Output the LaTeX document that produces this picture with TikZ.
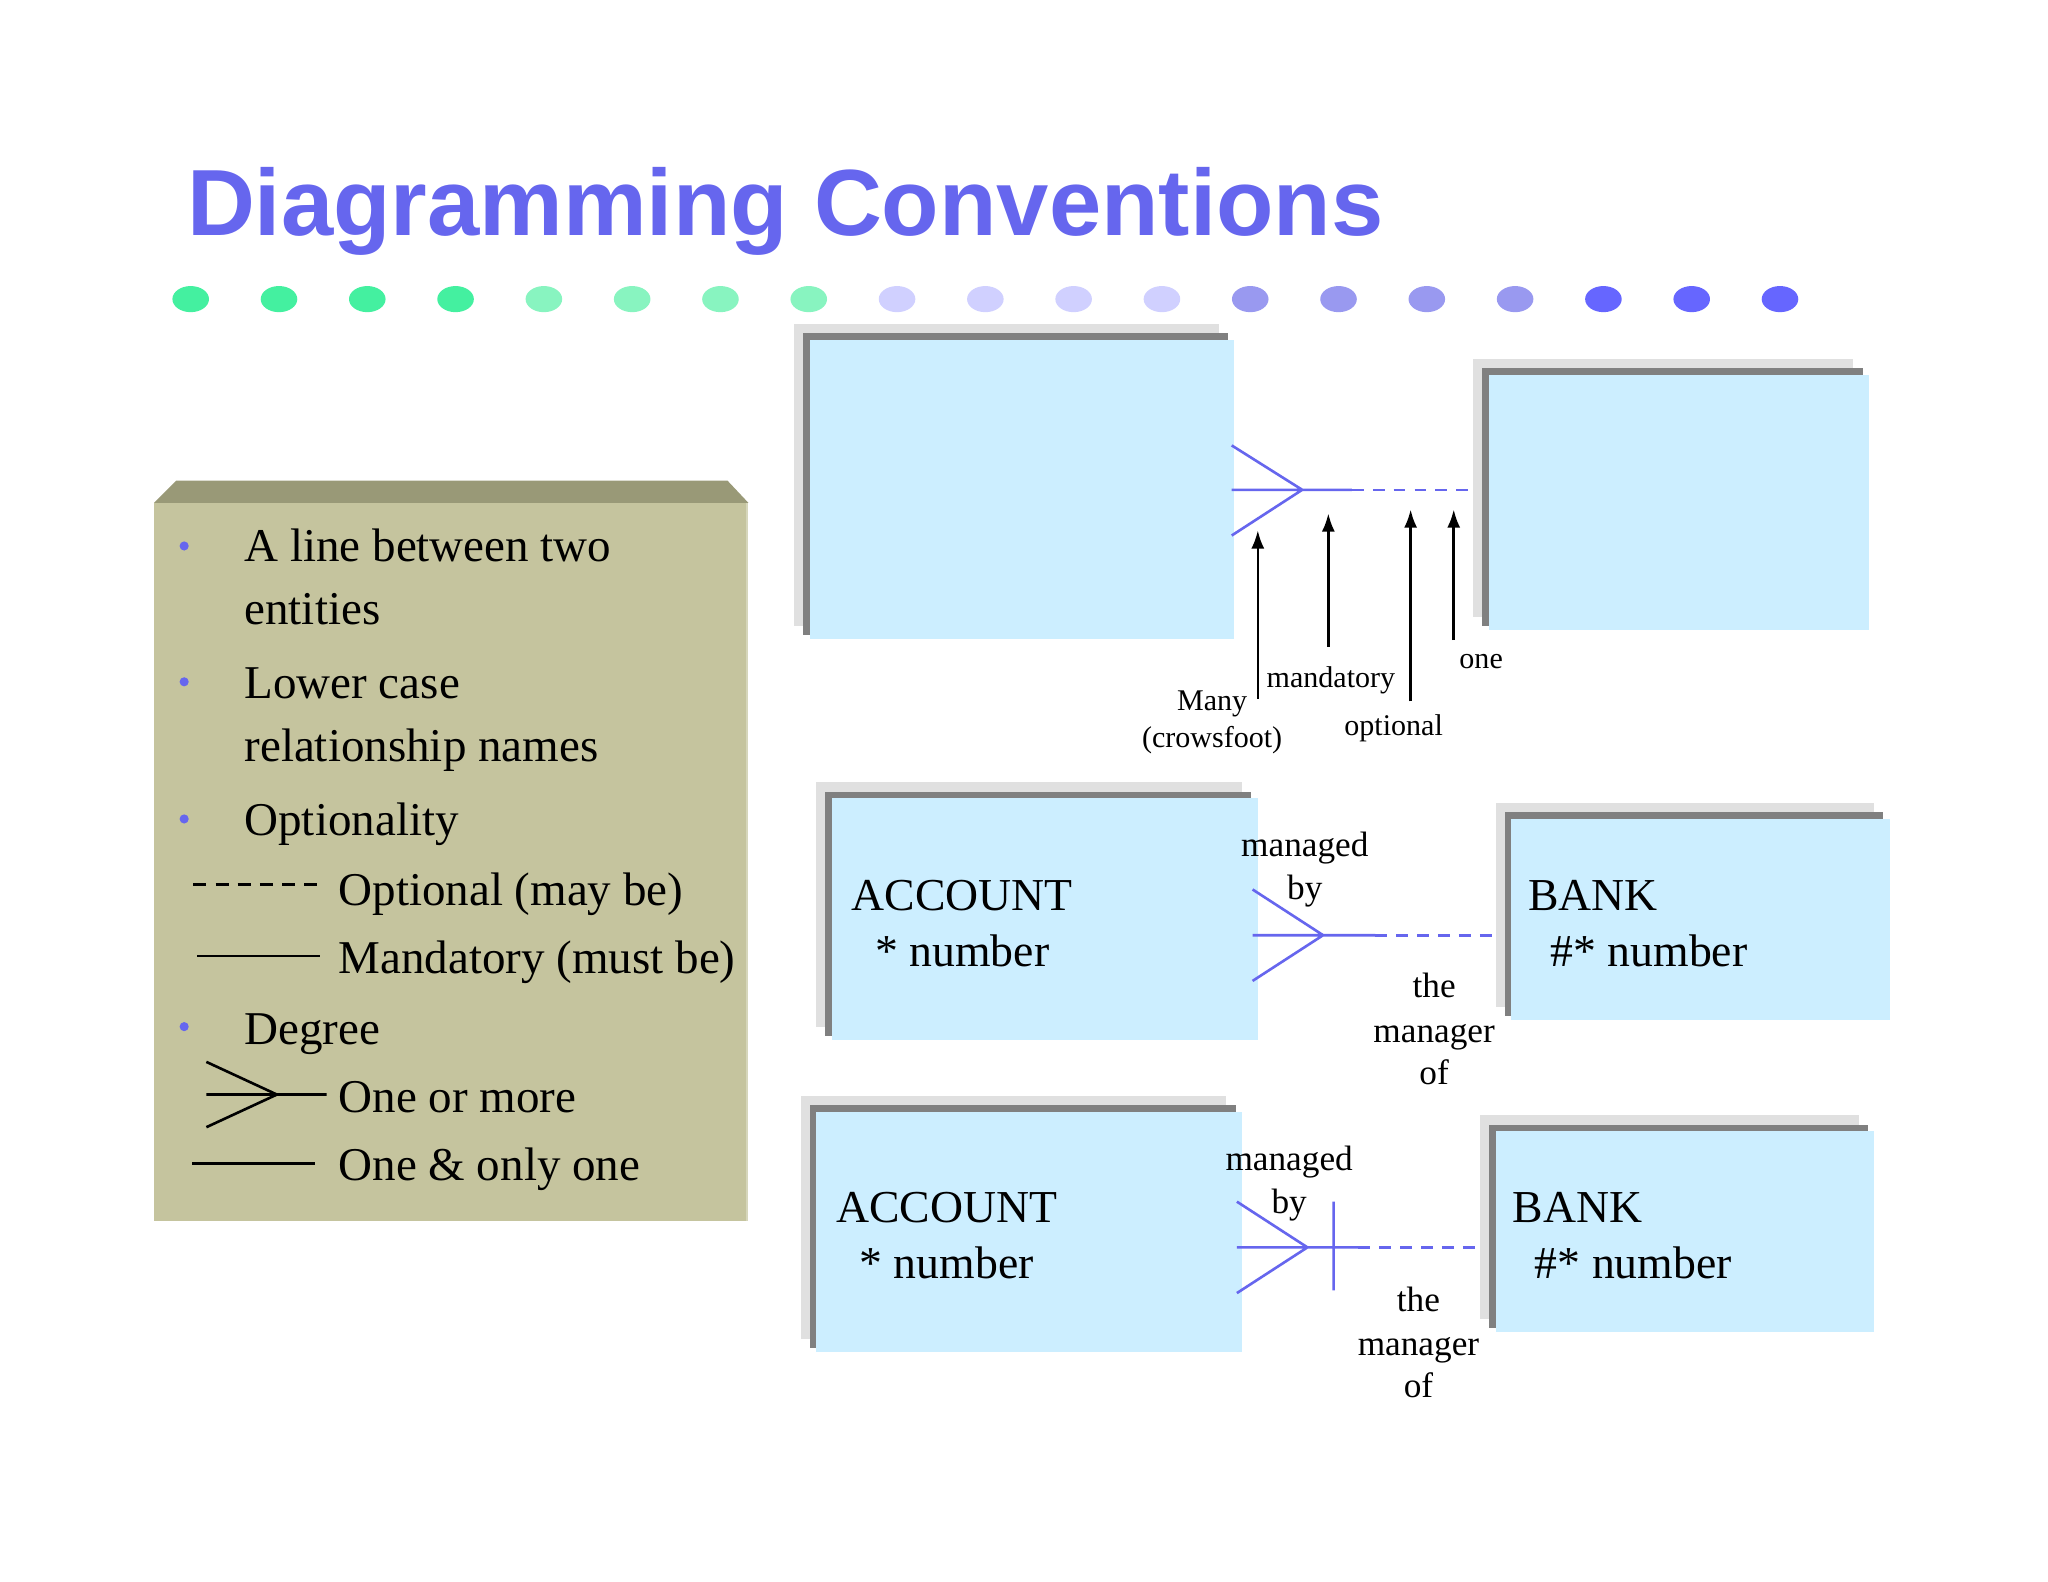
\documentclass[tikz,border=0pt]{standalone}
\usepackage{fontspec}
\usetikzlibrary{shapes.geometric,arrows.meta,fit}
\setmainfont{Liberation Serif}
\newfontfamily\titlefont{Liberation Sans}
\begin{document}
\begin{tikzpicture}[x=1pt,y=-1pt,
  txt/.style={inner sep=0,anchor=base west,font=\fontsize{36}{40}\selectfont},
  lbl/.style={inner sep=0,anchor=base,font=\fontsize{23}{26}\selectfont},
  lbl2/.style={inner sep=0,anchor=base,font=\fontsize{27}{30}\selectfont},
  ent/.style={inner sep=0,anchor=base west,font=\fontsize{35}{40}\selectfont},
  rel/.style={draw=relc,line width=2pt},
  reld/.style={draw=relc,line width=2pt,dash pattern=on 9pt off 7pt},
  arr/.style={-{Latex[length=14pt,width=10pt]},line width=2pt},
  bul/.style={fill=relc,circle,inner sep=0,minimum size=7pt}]
\definecolor{relc}{HTML}{6666EE}
\definecolor{boxc}{HTML}{CCEEFF}
\definecolor{olive}{HTML}{C5C49E}
\definecolor{olivedk}{HTML}{999977}
\definecolor{titc}{HTML}{6666EE}
\useasboundingbox[fill=white] (0,0) rectangle (1568,1211);
% title
\node[inner sep=0,anchor=base west,text=titc,font=\titlefont\bfseries\fontsize{72}{80}\selectfont] (title) at (143,180) {Diagramming Conventions};
% dots
\foreach \i/\c in {0/44F0A0,1/44F0A0,2/44F0A0,3/44F0A0,4/88F4C0,5/88F4C0,6/88F4C0,7/88F4C0,8/D0D0FF,9/D0D0FF,10/D0D0FF,11/D0D0FF,12/9999F0,13/9999F0,14/9999F0,15/9999F0,16/6666FF,17/6666FF,18/6666FF}{
  \definecolor{dc}{HTML}{\c}
  \node[fill=dc,ellipse,minimum width=28pt,minimum height=20pt,inner sep=0] (dot\i) at ({146+67.6*\i},229) {};}
% legend panel
\fill[olive] (118,385) rectangle (573,935);
\fill[olivedk] (118,385) -- (135,368) -- (557,368) -- (573,385) -- cycle;
\draw[color=olive!70!white,line width=2pt] (572,385) -- (572,935);
\node[bul] (b1) at (141,418) {};
\node[bul] (b2) at (141,522) {};
\node[bul] (b3) at (141,627) {};
\node[bul] (b4) at (141,786) {};
\node[txt] (t1) at (187,430) {A line between two};
\node[txt] (t2) at (187,478) {entities};
\node[txt] (t3) at (187,535) {Lower case};
\node[txt] (t4) at (187,583) {relationship names};
\node[txt] (t5) at (187,640) {Optionality};
\node[txt] (t6) at (259,693) {Optional (may be)};
\node[txt] (t7) at (259,745) {Mandatory (must be)};
\node[txt] (t8) at (187,800) {Degree};
\node[txt] (t9) at (259,852) {One or more};
\node[txt] (t10) at (259,904) {One \& only one};
\coordinate (l1a) at (148,677); \coordinate (l1b) at (250,677);
\draw[line width=2pt,dash pattern=on 10pt off 7pt] (l1a) -- (l1b);
\coordinate (l2a) at (151,732); \coordinate (l2b) at (245,732);
\draw[line width=2pt] (l2a) -- (l2b);
\coordinate (c1) at (158,813); \coordinate (c2) at (158,863); \coordinate (c0) at (212,838); \coordinate (c3) at (250,838);
\draw[line width=2pt] (c1) -- (c0) -- (c2) (c0) -- (c3) (158,838) -- (c0);
\coordinate (l3a) at (147,891); \coordinate (l3b) at (241,891);
\draw[line width=2pt] (l3a) -- (l3b);
% entity boxes
\newcommand\entbox[5]{% name, x1,y1,x2,y2 of fill
  \fill[black!12] ({#2-12},{#3-12}) rectangle ({#4-12},{#5-10});
  \fill[black!50] ({#2-5},{#3-5}) rectangle ({#4-5},{#5-3});
  \fill[boxc] (#2,#3) rectangle (#4,#5);
  \node[inner sep=0,fit={(#2,#3) (#4,#5)}] (#1) {};}
\entbox{e1}{620}{260}{945}{489}
\entbox{e2}{1140}{287}{1431}{482}
\entbox{e3}{637}{611}{963}{796}
\entbox{e4}{1157}{627}{1447}{781}
\entbox{e5}{625}{851}{951}{1035}
\entbox{e6}{1145}{866}{1435}{1020}
\node[ent] (a1) at (652,697) {ACCOUNT};
\node[ent] (a2) at (670,740) {* number};
\node[ent] (k1) at (1170,697) {BANK};
\node[ent] (k2) at (1187,740) {\#* number};
\node[ent] (a3) at (640,936) {ACCOUNT};
\node[ent] (a4) at (658,979) {* number};
\node[ent] (k3) at (1158,936) {BANK};
\node[ent] (k4) at (1175,979) {\#* number};
% relationship 1
\coordinate (r1a) at (943,341); \coordinate (r1b) at (943,410); \coordinate (r1c) at (997,375);
\coordinate (r1s) at (943,375); \coordinate (r1m) at (1035,375); \coordinate (r1e) at (1130,375);
\draw[rel] (r1a) -- (r1c) -- (r1b) (r1s) -- (r1m);
\draw[reld] (r1m) -- (r1e);
\coordinate (p1) at (963,535); \coordinate (q1) at (963,406);
\coordinate (p2) at (1017,495); \coordinate (q2) at (1017,393);
\coordinate (p3) at (1080,537); \coordinate (q3) at (1080,390);
\coordinate (p4) at (1113,490); \coordinate (q4) at (1113,390);
\draw[arr] (p1) -- (q1);
\draw[arr] (p2) -- (q2);
\draw[arr] (p3) -- (q3);
\draw[arr] (p4) -- (q4);
\node[lbl] (m1) at (928,544) {Many};
\node[lbl] (m2) at (928,572) {(crowsfoot)};
\node[lbl] (m3) at (1019,526) {mandatory};
\node[lbl] (m4) at (1067,563) {optional};
\node[lbl] (m5) at (1134,512) {one};
% relationship 2
\coordinate (r2a) at (959,681); \coordinate (r2b) at (959,751); \coordinate (r2c) at (1013,716);
\coordinate (r2s) at (959,716); \coordinate (r2m) at (1053,716); \coordinate (r2e) at (1145,716);
\draw[rel] (r2a) -- (r2c) -- (r2b) (r2s) -- (r2m);
\draw[reld] (r2m) -- (r2e);
\node[lbl2] (n1) at (999,656) {managed};
\node[lbl2] (n2) at (999,689) {by};
\node[lbl2] (n3) at (1098,764) {the};
\node[lbl2] (n4) at (1098,798) {manager};
\node[lbl2] (n5) at (1098,830) {of};
% relationship 3
\coordinate (r3a) at (947,920); \coordinate (r3b) at (947,990); \coordinate (r3c) at (1001,955);
\coordinate (r3s) at (947,955); \coordinate (r3m) at (1040,955); \coordinate (r3e) at (1133,955);
\coordinate (r3t) at (1021,920); \coordinate (r3u) at (1021,988);
\draw[rel] (r3a) -- (r3c) -- (r3b) (r3s) -- (r3m) (r3t) -- (r3u);
\draw[reld] (r3m) -- (r3e);
\node[lbl2] (o1) at (987,896) {managed};
\node[lbl2] (o2) at (987,929) {by};
\node[lbl2] (o3) at (1086,1004) {the};
\node[lbl2] (o4) at (1086,1038) {manager};
\node[lbl2] (o5) at (1086,1070) {of};
\end{tikzpicture}
\end{document}
